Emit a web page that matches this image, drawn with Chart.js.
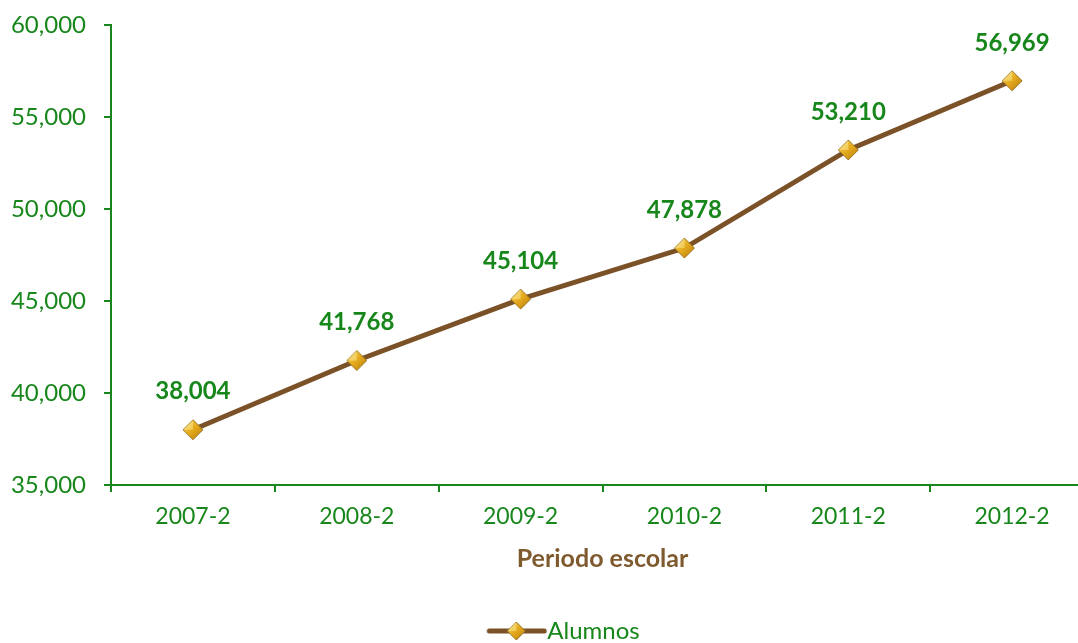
<!DOCTYPE html>
<html>
<head>
<meta charset="utf-8">
<script src="https://cdn.jsdelivr.net/npm/chart.js@4/dist/chart.umd.min.js"></script>
<style>
  html, body { margin: 0; padding: 0; background: #fff; overflow: hidden; }
  #wrap { width: 1110px; height: 653px; }
</style>
</head>
<body>
<div id="wrap"><canvas id="chart" width="1110" height="653"></canvas></div>
<script>
const periods = ["2007-2", "2008-2", "2009-2", "2010-2", "2011-2", "2012-2"];
const alumnos = [38004, 41768, 45104, 47878, 53210, 56969];
const yTicks = [35000, 40000, 45000, 50000, 55000, 60000];

const GREEN = "#17871B";
const BROWN = "#7B5127";
const FONT = "Lato, 'Open Sans', sans-serif";

// gold diamond marker
function makeDiamond(size) {
    const c = document.createElement("canvas");
    c.width = size; c.height = size;
    const g = c.getContext("2d");
    const h = size / 2;
    const grad = g.createLinearGradient(0, 0, size, size);
    grad.addColorStop(0, "#FBE27A");
    grad.addColorStop(0.5, "#E5A91C");
    grad.addColorStop(1, "#B07A10");
    g.beginPath();
    g.moveTo(h, 1); g.lineTo(size - 1, h); g.lineTo(h, size - 1); g.lineTo(1, h);
    g.closePath();
    g.fillStyle = grad;
    g.fill();
    g.strokeStyle = "#9A7420";
    g.lineWidth = 1;
    g.stroke();
    // facet highlight
    g.beginPath();
    g.moveTo(h, 1); g.lineTo(h, h); g.lineTo(1, h); g.closePath();
    g.fillStyle = "rgba(255,240,160,0.45)";
    g.fill();
    return c;
}

const marker = makeDiamond(22);

// legend icon: line + diamond, shifted right so the text sits close to the line
function makeLegendIcon() {
    const c = document.createElement("canvas");
    c.width = 86; c.height = 22;
    const g = c.getContext("2d");
    g.strokeStyle = BROWN;
    g.lineWidth = 5;
    g.lineCap = "round";
    g.beginPath();
    g.moveTo(28, 11); g.lineTo(83, 11);
    g.stroke();
    g.drawImage(makeDiamond(20), 45, 1);
    return c;
}
const legendIcon = makeLegendIcon();

const valueLabels = {
    id: "valueLabels",
    afterDatasetsDraw(chart) {
        const ctx = chart.ctx;
        const meta = chart.getDatasetMeta(0);
        ctx.save();
        ctx.font = "bold 24px " + FONT;
        ctx.fillStyle = GREEN;
        ctx.textAlign = "center";
        ctx.textBaseline = "middle";
        meta.data.forEach((pt, i) => {
            ctx.fillText(alumnos[i].toLocaleString("en-US"), pt.x, pt.y - 38);
        });
        ctx.restore();
    }
};

// nudge the legend a little to the right, like the original
const legendShift = {
    id: "legendShift",
    afterLayout(chart) {
        chart.legend.left += 9;
        chart.legend.right += 9;
    }
};

new Chart(document.getElementById("chart"), {
    type: "line",
    data: {
        labels: periods,
        datasets: [{
            label: "Alumnos",
            data: alumnos,
            borderColor: BROWN,
            borderWidth: 5,
            pointStyle: marker,
            pointRadius: 11,
            tension: 0
        }]
    },
    options: {
        responsive: false,
        animation: false,
        layout: { padding: { top: 25, right: 15, left: 0, bottom: 0 } },
        plugins: {
            tooltip: { enabled: false },
            legend: {
                position: "bottom",
                labels: {
                    usePointStyle: true,
                    pointStyleWidth: 62,
                    padding: 10,
                    color: GREEN,
                    font: { family: FONT, size: 24 },
                    generateLabels: chart => [{
                        text: "Alumnos",
                        pointStyle: legendIcon,
                        fillStyle: BROWN,
                        strokeStyle: BROWN,
                        lineWidth: 0,
                        fontColor: GREEN,
                        datasetIndex: 0
                    }]
                }
            }
        },
        scales: {
            x: {
                offset: true,
                grid: { offset: true, drawOnChartArea: false, color: GREEN, tickLength: 7, lineWidth: 2 },
                border: { color: GREEN, width: 2 },
                ticks: { color: GREEN, font: { family: FONT, size: 23 }, padding: 11 },
                title: {
                    display: true,
                    text: "Periodo escolar",
                    color: "#7F5A2E",
                    font: { family: FONT, size: 25, weight: "bold" },
                    padding: { top: 4, bottom: 35 }
                },
                afterFit: s => {
                    s.height = 124;
                    s.paddingLeft = 0;
                    s.paddingRight = 0;
                }
            },
            y: {
                min: 35000,
                max: 60000,
                grid: { drawOnChartArea: false, color: GREEN, tickLength: 7, lineWidth: 2 },
                border: { color: GREEN, width: 2 },
                afterBuildTicks: s => { s.ticks = yTicks.map(v => ({ value: v })); },
                ticks: {
                    color: GREEN,
                    padding: 18,
                    font: { family: FONT, size: 24 },
                    callback: v => v.toLocaleString("en-US")
                },
                afterFit: s => {
                    s.width = 111;
                    s.paddingTop = 0;
                    s.paddingBottom = 0;
                }
            }
        }
    },
    plugins: [valueLabels, legendShift]
});
</script>
</body>
</html>
